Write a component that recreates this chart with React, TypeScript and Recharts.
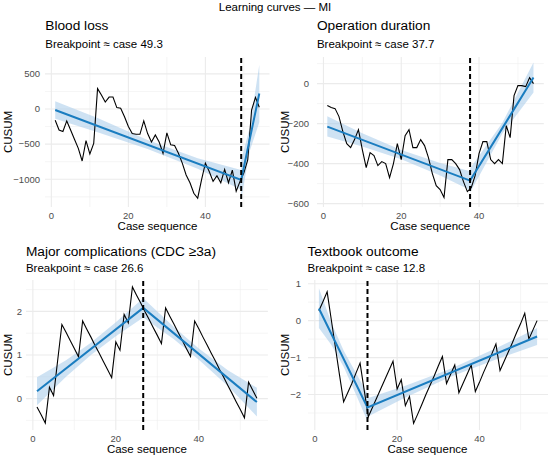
import { ComposedChart, Line, Area, XAxis, YAxis, CartesianGrid, ReferenceLine } from 'recharts'

const CASES = [
  1, 2, 3, 4, 5, 6, 7, 8, 9, 10, 11, 12, 13, 14, 15, 16, 17, 18, 19, 20, 21, 22, 23, 24, 25, 26, 27,
  28, 29, 30, 31, 32, 33, 34, 35, 36, 37, 38, 39, 40, 41, 42, 43, 44, 45, 46, 47, 48, 49, 50, 51, 52, 53, 54,
]

// CUSUM per case
const BLOOD_LOSS = [
  -160, -300, -320, -170, -300, -430, -560, -740, -450, -640, -490, 290, 200, 100, 170, 170, 20, 10, -110, -250,
  -350, -360, -360, -170, -350, -470, -370, -470, -630, -340, -510, -520, -630, -770, -940, -1050, -1200, -1270,
  -1010, -770, -890, -1030, -950, -1050, -860, -1050, -870, -1170, -1030, -910, -725, -15, 165, 25,
]
const OP_DURATION = [
  -110, -120, -125, -165, -240, -300, -320, -280, -230, -330, -420, -345, -360, -410, -390, -400, -470, -400, -300,
  -380, -260, -230, -320, -320, -280, -310, -370, -450, -510, -530, -570, -380, -380, -400, -430, -490, -540, -520,
  -460, -350, -290, -290, -380, -400, -380, -400, -210, -270, -60, -10, -10, -15, 30, 0,
]
const MAJOR_COMP = [
  -0.19, -0.37, -0.56, 0.26, 0.07, 0.89, 1.7, 1.52, 1.33, 1.15, 0.96, 1.78, 1.59, 1.41, 1.22, 1.04, 0.85, 0.67, 0.48,
  1.3, 1.11, 1.93, 1.74, 2.56, 2.37, 2.19, 2.0, 1.82, 1.63, 1.45, 1.26, 2.08, 1.89, 1.71, 1.52, 1.34, 1.15, 0.97, 1.78,
  1.6, 1.41, 1.23, 1.04, 0.86, 0.67, 0.49, 0.3, 0.12, -0.07, -0.25, -0.44, 0.38, 0.19, 0.01,
]
const TEXTBOOK = [
  0.27, 0.52, 0.78, 0.03, -0.72, -1.47, -2.2, -1.95, -1.7, -1.42, -1.15, -1.88, -2.6, -2.35, -2.1, -1.85, -1.6, -1.35,
  -1.1, -1.85, -1.6, -2.3, -2.05, -2.78, -2.53, -2.27, -2.0, -1.75, -1.5, -1.23, -0.97, -1.7, -1.45, -1.2, -1.95, -1.7,
  -1.45, -1.2, -1.92, -1.67, -1.4, -1.15, -0.9, -0.63, -1.35, -1.1, -0.85, -0.6, -0.33, -0.08, 0.2, -0.5, -0.25, 0.0,
]

const TITLES = ['Blood loss', 'Operation duration', 'Major complications (CDC ≥3a)', 'Textbook outcome']
const BREAKPOINTS = [49.3, 37.7, 26.6, 12.8]

// segmented fit: value at first case, breakpoint, last case
const BLOOD_FIT = [-15, -1010, 220]
const OP_FIT = [-215, -485, 30]
const MAJOR_FIT = [0.17, 2.08, -0.08]
const TEXTBOOK_FIT = [0.33, -2.35, -0.43]

// confidence band [case, low, high], left and right of the breakpoint
const BLOOD_BAND_L = [[1, -140, 110], [12, -330, -130], [25, -570, -440], [38, -850, -700], [49.3, -1150, -870]]
const BLOOD_BAND_R = [[49.3, -1290, -730], [51.5, -600, -270], [54, -190, 630]]
const OP_BAND_L = [[1, -265, -163], [10, -315, -248], [20, -378, -332], [30, -460, -397], [37.7, -532, -438]]
const OP_BAND_R = [[37.7, -545, -425], [46, -250, -196], [54, -45, 105]]
const MAJOR_BAND_L = [[1, -0.15, 0.49], [8, 0.5, 0.88], [14, 1.0, 1.28], [20, 1.43, 1.75], [26.6, 1.86, 2.3]]
const MAJOR_BAND_R = [[26.6, 1.86, 2.3], [34, 1.36, 1.64], [40, 0.89, 1.15], [47, 0.29, 0.65], [54, -0.41, 0.25]]
const TEXTBOOK_BAND_L = [[1, -0.2, 0.88], [4, -0.65, -0.05], [7, -1.25, -0.81], [10, -2.0, -1.42], [12.8, -2.72, -1.98]]
const TEXTBOOK_BAND_R = [[12.8, -2.6, -2.1], [22, -2.08, -1.76], [33, -1.52, -1.3], [44, -1.05, -0.75], [54, -0.66, -0.2]]

const X_TICKS = [0, 20, 40]
const X_MINOR = [10, 30, 50]
const BLOOD_TICKS = [-1000, -500, 0, 500]
const BLOOD_MINOR = [-1250, -750, -250, 250]
const OP_TICKS = [-600, -400, -200, 0]
const OP_MINOR = [-500, -300, -100, 100]
const MAJOR_TICKS = [0, 1, 2]
const MAJOR_MINOR = [-0.5, 0.5, 1.5, 2.5]
const TEXTBOOK_TICKS = [-2, -1, 0, 1]
const TEXTBOOK_MINOR = [-2.5, -1.5, -0.5, 0.5]

const FONT = '"Liberation Sans", Arial, sans-serif'
const BLUE = '#1A7DC0'
const X_DOMAIN = [-1.65, 56.65]

const PANELS = [
  {
    values: BLOOD_LOSS, fit: BLOOD_FIT, bandL: BLOOD_BAND_L, bandR: BLOOD_BAND_R, yTicks: BLOOD_TICKS, yMinor: BLOOD_MINOR,
    yDomain: [-1395, 740], left: 45.3, right: 269.8, top: 57, bottom: 207, gap: 5, titleY: 30, subY: 47.5, yTitleX: 12,
  },
  {
    values: OP_DURATION, fit: OP_FIT, bandL: OP_BAND_L, bandR: OP_BAND_R, yTicks: OP_TICKS, yMinor: OP_MINOR,
    yDomain: [-617, 133], left: 316.9, right: 543.7, top: 57, bottom: 207, gap: 8, titleY: 30, subY: 47.5, yTitleX: 289,
  },
  {
    values: MAJOR_COMP, fit: MAJOR_FIT, bandL: MAJOR_BAND_L, bandR: MAJOR_BAND_R, yTicks: MAJOR_TICKS, yMinor: MAJOR_MINOR,
    yDomain: [-0.72, 2.72], left: 25.9, right: 267.8, top: 280, bottom: 430, gap: 4, titleY: 255.7, subY: 271.7, yTitleX: 12,
  },
  {
    values: TEXTBOOK, fit: TEXTBOOK_FIT, bandL: TEXTBOOK_BAND_L, bandR: TEXTBOOK_BAND_R, yTicks: TEXTBOOK_TICKS,
    yMinor: TEXTBOOK_MINOR, yDomain: [-2.96, 1.1], left: 307.5, right: 547.5, top: 280, bottom: 430, gap: 7,
    titleY: 255.7, subY: 271.7, yTitleX: 289,
  },
]

const fmt = (v: number) => (v < 0 ? '\u2212' + Math.abs(v) : String(v))
const tickStyle = { fontSize: 9.5, fill: '#4D4D4D', fontFamily: FONT }

function Panel({ p, bp }: { p: any; bp: number }) {
  const rows = CASES.map((c, i) => ({ x: c, y: p.values[i] }))
  const fitRows = [CASES[0], bp, CASES[CASES.length - 1]].map((x, i) => ({ x, y: p.fit[i] }))
  const bandL = p.bandL.map(([x, lo, hi]: number[]) => ({ x, band: [lo, hi] }))
  const bandR = p.bandR.map(([x, lo, hi]: number[]) => ({ x, band: [lo, hi] }))
  const yAxisW = 40
  const w = p.right - p.left + yAxisW + 4
  const h = p.bottom - p.top + 5 + 25

  return (
    <div style={{ position: 'absolute', left: p.left - yAxisW, top: p.top - 5 }}>
      <ComposedChart width={w} height={h} margin={{ top: 5, right: 4, left: 0, bottom: 0 }}>
        <CartesianGrid horizontalValues={p.yMinor} verticalValues={X_MINOR} stroke="#EEEEEE" strokeWidth={0.6} />
        <CartesianGrid horizontalValues={p.yTicks} verticalValues={X_TICKS} stroke="#EBEBEB" strokeWidth={1.1} />
        <XAxis
          type="number"
          dataKey="x"
          domain={X_DOMAIN}
          ticks={X_TICKS}
          allowDataOverflow
          axisLine={false}
          tickLine={false}
          tickSize={0}
          tickMargin={5}
          height={25}
          tick={tickStyle}
        />
        <YAxis
          type="number"
          domain={p.yDomain}
          ticks={p.yTicks}
          allowDataOverflow
          axisLine={false}
          tickLine={false}
          tickSize={0}
          tickMargin={p.gap}
          width={yAxisW}
          tickFormatter={fmt}
          tick={tickStyle}
        />
        <Area data={bandL} dataKey="band" stroke="none" fill="#A6CBEA" fillOpacity={0.55} isAnimationActive={false} />
        <Area data={bandR} dataKey="band" stroke="none" fill="#A6CBEA" fillOpacity={0.55} isAnimationActive={false} />
        <Line data={rows} dataKey="y" stroke="#000" strokeWidth={1.1} dot={false} activeDot={false} isAnimationActive={false} />
        <Line data={fitRows} dataKey="y" stroke={BLUE} strokeWidth={2} dot={false} activeDot={false} isAnimationActive={false} />
        <ReferenceLine x={bp} stroke="#000" strokeWidth={2} strokeDasharray="5 3" />
      </ComposedChart>
    </div>
  )
}

export default function App() {
  return (
    <div style={{ position: 'absolute', left: 0, top: 0, width: 550, height: 461, background: '#fff' }}>
      {PANELS.map((p, i) => (
        <Panel key={i} p={p} bp={BREAKPOINTS[i]} />
      ))}
      <svg width={550} height={461} style={{ position: 'absolute', left: 0, top: 0, pointerEvents: 'none' }} fontFamily={FONT}>
        <text x={275} y={10.5} textAnchor="middle" fontSize={11.5} fill="#000">
          Learning curves — MI
        </text>
        {PANELS.map((p, i) => {
          const midY = (p.top + p.bottom) / 2
          return (
            <g key={i}>
              <text x={p.left} y={p.titleY} fontSize={13.7} fill="#000">
                {TITLES[i]}
              </text>
              <text x={p.left} y={p.subY} fontSize={11.5} fill="#000">
                {`Breakpoint ≈ case ${BREAKPOINTS[i]}`}
              </text>
              <text x={(p.left + p.right) / 2} y={p.bottom + 23} textAnchor="middle" fontSize={11.5} fill="#000">
                Case sequence
              </text>
              <text
                x={p.yTitleX}
                y={midY}
                textAnchor="middle"
                fontSize={11.5}
                fill="#000"
                transform={`rotate(-90 ${p.yTitleX} ${midY})`}
              >
                CUSUM
              </text>
            </g>
          )
        })}
      </svg>
    </div>
  )
}
